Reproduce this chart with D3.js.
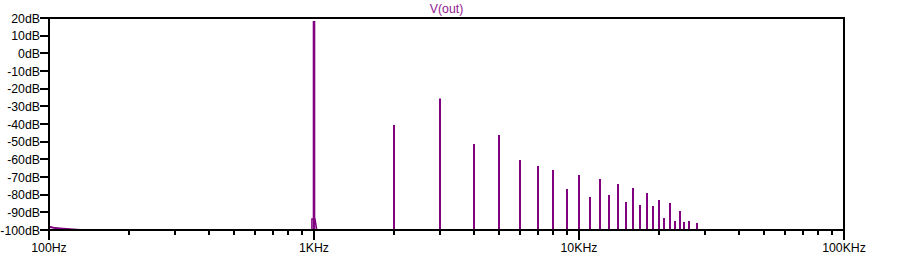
<!DOCTYPE html>
<html>
<head>
<meta charset="utf-8">
<script src="https://cdn.jsdelivr.net/npm/d3@7"></script>
<style>
  body { margin: 0; background: #fff; }
  svg text { font-family: "Liberation Sans", Arial, sans-serif; font-size: 12.3px; }
</style>
</head>
<body>
<div class="container"></div>
<script>
// harmonics of the 1KHz tone (Hz) and their levels (dB)
let harmonicFreqs = [1000, 2000, 3000, 4000, 5000, 6000, 7000, 8000, 9000, 10000,
  11000, 12000, 13000, 14000, 15000, 16000, 17000, 18000, 19000, 20000,
  21000, 22000, 23000, 24000, 25000, 26000, 28000]
let harmonicLevels = [18.3, -40.5, -25.5, -51.3, -46.2, -60.4, -63.8, -66.0, -76.8, -68.9,
  -81.3, -71.1, -80.2, -74.0, -84.1, -76.2, -85.8, -79.1, -86.4, -83.0,
  -93.2, -84.7, -94.9, -89.2, -95.5, -94.9, -96.0]

// low frequency floor at the left edge
let lowFreqs = [100, 104, 110, 120, 131, 137]
let lowLevels = [-98.1, -98.7, -99.1, -99.6, -100, -100.4]

// skirt at the base of the fundamental
let skirtFreqs = [982, 982, 1008, 1026]
let skirtLevels = [-100.5, -93.8, -93.8, -100.5]

let yTicks = [20, 10, 0, -10, -20, -30, -40, -50, -60, -70, -80, -90, -100]
let xMajor = [100, 1000, 10000, 100000]
let xMajorLabels = ["100Hz", "1KHz", "10KHz", "100KHz"]

let width = 903
let height = 257
let plotLeft = 49, plotRight = 844, plotTop = 18, plotBottom = 230
let traceColor = "#800080"

let svg = d3.select(".container")
  .append("svg")
  .attr("width", width)
  .attr("height", height)

let x = d3.scaleLog().domain([100, 100000]).range([plotLeft, plotRight])
let y = d3.scaleLinear().domain([-100, 20]).range([plotBottom, plotTop])
let px = function (f) { return Math.round(x(f)); }

// minor ticks 2..9 in each decade
let xMinor = []
for (let d = 100; d < 100000; d *= 10) {
  for (let k = 2; k <= 9; k++) xMinor.push(d * k)
}

svg.append("clipPath").attr("id", "plotclip")
  .append("rect")
  .attr("x", plotLeft).attr("y", plotTop)
  .attr("width", plotRight - plotLeft).attr("height", plotBottom - plotTop)

let plot = svg.append("g").attr("clip-path", "url(#plotclip)")

plot.selectAll(".harm")
  .data(harmonicFreqs)
  .enter()
  .append("line")
  .attr("class", "harm")
  .attr("x1", function (d) { return px(d); })
  .attr("x2", function (d) { return px(d); })
  .attr("y1", y(-100))
  .attr("y2", function (d, i) { return y(harmonicLevels[i]); })
  .attr("stroke", traceColor)
  .attr("stroke-width", function (d, i) { return i === 0 ? 2.6 : 2; })

let line = d3.line()
  .x(function (d) { return x(d[0]); })
  .y(function (d) { return y(d[1]); })

plot.append("path")
  .datum(lowFreqs.map(function (f, i) { return [f, lowLevels[i]]; }))
  .attr("d", line)
  .attr("fill", "none")
  .attr("stroke", traceColor)
  .attr("stroke-width", 2)

plot.append("path")
  .datum(skirtFreqs.map(function (f, i) { return [f, skirtLevels[i]]; }))
  .attr("d", line)
  .attr("fill", "none")
  .attr("stroke", traceColor)
  .attr("stroke-width", 1.5)

// frame
svg.append("rect")
  .attr("x", plotLeft).attr("y", plotTop)
  .attr("width", plotRight - plotLeft).attr("height", plotBottom - plotTop)
  .attr("fill", "none")
  .attr("stroke", "#000")
  .attr("stroke-width", 2)

// y ticks + labels
svg.selectAll(".ytick")
  .data(yTicks)
  .enter()
  .append("line")
  .attr("class", "ytick")
  .attr("x1", plotLeft - 9).attr("x2", plotLeft)
  .attr("y1", function (d) { return Math.round(y(d)); })
  .attr("y2", function (d) { return Math.round(y(d)); })
  .attr("stroke", "#000")
  .attr("stroke-width", 2)

svg.selectAll(".ylab")
  .data(yTicks)
  .enter()
  .append("text")
  .attr("class", "ylab")
  .attr("x", plotLeft - 9)
  .attr("y", function (d) { return y(d) + 4.5; })
  .attr("text-anchor", "end")
  .attr("fill", "#000")
  .text(function (d) { return d + "dB"; })

// x ticks
svg.selectAll(".xminor")
  .data(xMinor)
  .enter()
  .append("line")
  .attr("class", "xminor")
  .attr("x1", function (d) { return px(d); })
  .attr("x2", function (d) { return px(d); })
  .attr("y1", plotBottom).attr("y2", plotBottom + 5)
  .attr("stroke", "#000")
  .attr("stroke-width", 2)

svg.selectAll(".xmajor")
  .data(xMajor)
  .enter()
  .append("line")
  .attr("class", "xmajor")
  .attr("x1", function (d) { return px(d); })
  .attr("x2", function (d) { return px(d); })
  .attr("y1", plotBottom).attr("y2", plotBottom + 10)
  .attr("stroke", "#000")
  .attr("stroke-width", 2)

svg.selectAll(".xlab")
  .data(xMajor)
  .enter()
  .append("text")
  .attr("class", "xlab")
  .attr("x", function (d) { return x(d); })
  .attr("y", 252)
  .attr("text-anchor", "middle")
  .attr("fill", "#000")
  .text(function (d, i) { return xMajorLabels[i]; })

// trace name
svg.append("text")
  .attr("x", (plotLeft + plotRight) / 2)
  .attr("y", 13)
  .attr("text-anchor", "middle")
  .attr("fill", "#912091")
  .text("V(out)")
</script>
</body>
</html>
